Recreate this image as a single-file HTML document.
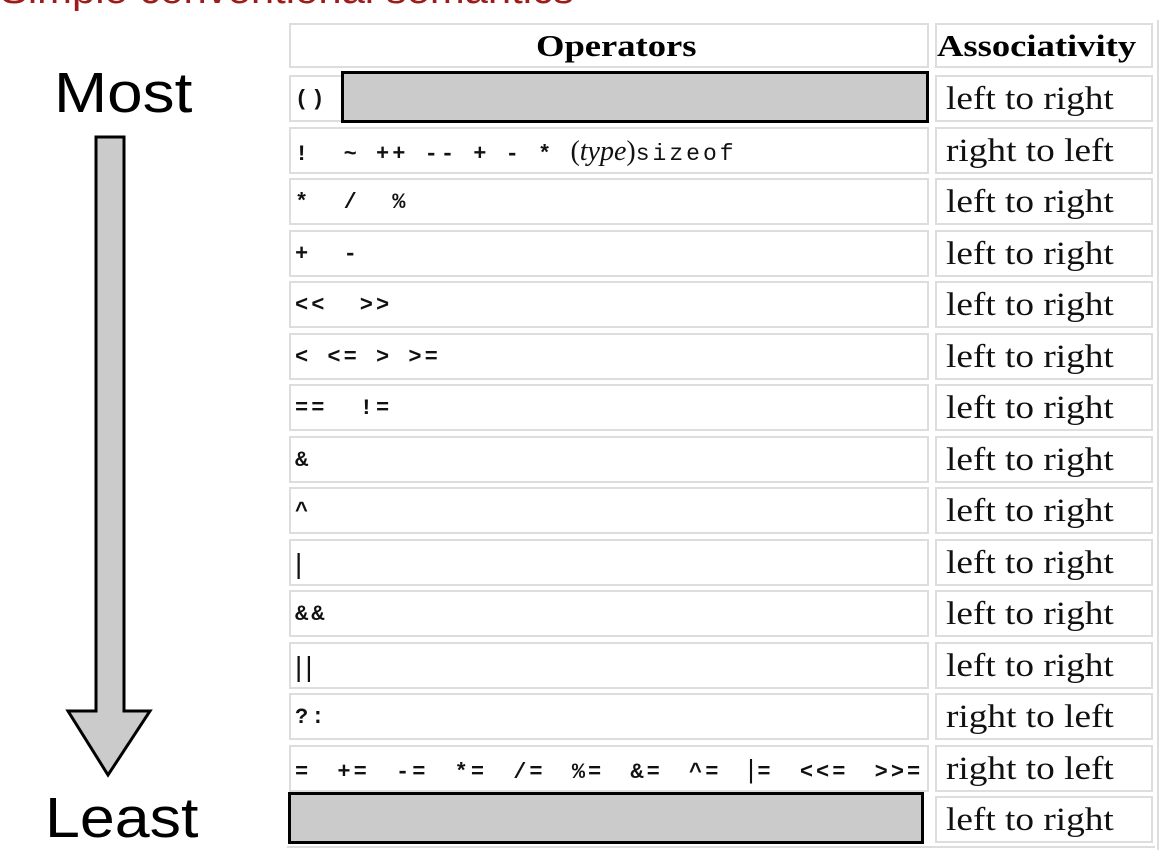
<!DOCTYPE html>
<html><head><meta charset="utf-8"><style>
body{margin:0;width:1176px;height:862px;background:#fff;position:relative;overflow:hidden;font-family:"Liberation Sans",sans-serif}
.a{position:absolute}
.c{position:absolute;border:2px solid #ddd;box-sizing:border-box;background:#fff}
.op{left:289px;width:640px;height:47px;font-family:"Liberation Mono",monospace;font-weight:bold;font-size:22px;letter-spacing:3px;line-height:45px;padding-left:4px;white-space:pre;color:#111}
.as{left:935px;width:218px;height:47px;color:#111}
.as span{position:absolute;left:9px;top:0;font-family:"Liberation Serif",serif;font-size:33px;line-height:44px;transform:scaleX(1.13);transform-origin:0 0;white-space:nowrap}
.g{position:absolute;background:#cbcbcb;border:3px solid #000;box-sizing:border-box}
.h span{position:absolute;top:0;font-family:"Liberation Serif",serif;font-weight:bold;font-size:31px;line-height:42px;white-space:nowrap;transform:scaleX(1.18);transform-origin:0 0}
</style></head><body>
<div class="a" style="left:0;top:-30px;font-size:38px;color:#9c1c1c;white-space:nowrap;transform:scaleX(1.1);transform-origin:0 0">Simple conventional semantics</div>
<div class="a" style="left:1157px;top:20px;width:2px;height:830px;background:#ddd"></div>
<div class="a" style="left:287px;top:846px;width:868px;height:2px;background:#ddd"></div>
<div class="c h" style="left:289px;top:23px;width:640px;height:45px"><span style="left:245px">Operators</span></div>
<div class="c h" style="left:935px;top:23px;width:218px;height:45px"><span style="left:0px">Associativity</span></div>

<div class="c op" style="top:75px">()</div>
<div class="c op" style="top:126.5px">!  ~ ++ -- + - * <span style="font-family:'Liberation Serif',serif;font-weight:normal;font-size:28px;letter-spacing:0">(<i>type</i>)</span><span style="font-weight:normal;font-size:23px;letter-spacing:3px">sizeof</span></div>
<div class="c op" style="top:178px">*  /  %</div>
<div class="c op" style="top:229.5px">+  -</div>
<div class="c op" style="top:281px">&lt;&lt;  &gt;&gt;</div>
<div class="c op" style="top:332.5px">&lt; &lt;= &gt; &gt;=</div>
<div class="c op" style="top:384px">==  !=</div>
<div class="c op" style="top:435.5px">&amp;</div>
<div class="c op" style="top:487px">^</div>
<div class="c op" style="top:538.5px"><span style="font-weight:normal;font-family:'Liberation Sans',sans-serif;font-size:28px">|</span></div>
<div class="c op" style="top:590px">&amp;&amp;</div>
<div class="c op" style="top:641.5px"><span style="font-weight:normal;font-family:'Liberation Sans',sans-serif;font-size:28px">||</span></div>
<div class="c op" style="top:693px">?:</div>
<div class="c op" style="top:744.5px;word-spacing:10px">= += -= *= /= %= &amp;= ^= <span style="font-weight:normal;font-family:'Liberation Sans',sans-serif;font-size:26px">|</span>= &lt;&lt;= &gt;&gt;=</div>

<div class="g" style="left:341px;top:71px;width:588px;height:52px"></div>
<div class="g" style="left:288px;top:792px;width:636px;height:52px"></div>

<div class="c as" style="top:75px"><span>left to right</span></div>
<div class="c as" style="top:126.5px"><span>right to left</span></div>
<div class="c as" style="top:178px"><span>left to right</span></div>
<div class="c as" style="top:229.5px"><span>left to right</span></div>
<div class="c as" style="top:281px"><span>left to right</span></div>
<div class="c as" style="top:332.5px"><span>left to right</span></div>
<div class="c as" style="top:384px"><span>left to right</span></div>
<div class="c as" style="top:435.5px"><span>left to right</span></div>
<div class="c as" style="top:487px"><span>left to right</span></div>
<div class="c as" style="top:538.5px"><span>left to right</span></div>
<div class="c as" style="top:590px"><span>left to right</span></div>
<div class="c as" style="top:641.5px"><span>left to right</span></div>
<div class="c as" style="top:693px"><span>right to left</span></div>
<div class="c as" style="top:744.5px"><span>right to left</span></div>
<div class="c as" style="top:796px"><span>left to right</span></div>

<div class="a" style="left:54px;top:60px;font-size:57px;line-height:66px;transform:scaleX(1.12);transform-origin:0 0">Most</div>
<div class="a" style="left:45px;top:785px;font-size:57px;line-height:66px;transform:scaleX(1.1);transform-origin:0 0">Least</div>
<svg class="a" style="left:0;top:0" width="240" height="862">
<polygon points="96,137 124,137 124,711 150,711 108,775 68,711 96,711" fill="#cbcbcb" stroke="#000" stroke-width="3" stroke-linejoin="miter"/>
</svg>
</body></html>
